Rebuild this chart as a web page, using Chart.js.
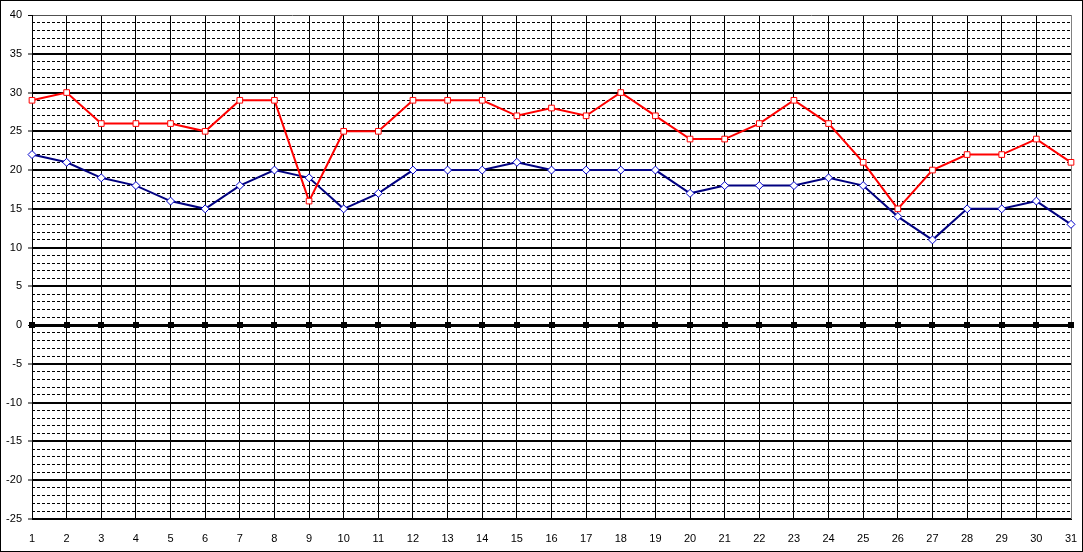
<!DOCTYPE html>
<html>
<head>
<meta charset="utf-8">
<script src="https://cdn.jsdelivr.net/npm/chart.js@4/dist/chart.umd.min.js"></script>
<style>
  html, body { margin: 0; padding: 0; background: #fff; }
  #wrap { width: 1083px; height: 552px; border: 1px solid #000; box-sizing: border-box; }
  canvas { display: block; }
</style>
</head>
<body>
<div id="wrap"><canvas id="c" width="1081" height="550"></canvas></div>
<script>
const days = ["1","2","3","4","5","6","7","8","9","10","11","12","13","14","15","16",
  "17","18","19","20","21","22","23","24","25","26","27","28","29","30","31"];
const maxTemps = [29, 30, 26, 26, 26, 25, 29, 29, 16, 25, 25, 29, 29, 29, 27, 28,
  27, 30, 27, 24, 24, 26, 29, 26, 21, 15, 20, 22, 22, 24, 21];
const minTemps = [22, 21, 19, 18, 16, 15, 18, 20, 19, 15, 17, 20, 20, 20, 21, 20,
  20, 20, 20, 17, 18, 18, 18, 19, 18, 14, 11, 15, 15, 16, 13];
const yMin = -25, yMax = 40;

// small black squares where the category axis crosses zero
const zeroMarks = {
  id: "zeroMarks",
  beforeDatasetsDraw(chart) {
    const x = chart.scales.x, y = chart.scales.y;
    const py = Math.round(y.getPixelForValue(0));
    const ctx = chart.ctx;
    ctx.save();
    ctx.fillStyle = "#000";
    days.forEach((d, i) => {
      const px = Math.round(x.getPixelForValue(i));
      ctx.fillRect(px - 3, py - 3, 6, 6);
    });
    ctx.restore();
  }
};

const font = { family: "'Liberation Sans', Arial, sans-serif", size: 11 };

new Chart(document.getElementById("c"), {
  type: "line",
  data: {
    labels: days,
    datasets: [
      {
        data: maxTemps,
        borderColor: "#ff0000",
        borderWidth: 2,
        pointStyle: "rect",
        pointRadius: 4,
        pointBorderWidth: 1,
        pointBackgroundColor: "#fff",
        pointBorderColor: "#ff0000",
        tension: 0
      },
      {
        data: minTemps,
        borderColor: "#000080",
        borderWidth: 2,
        pointStyle: "rectRot",
        pointRadius: 4,
        pointBorderWidth: 1,
        pointBackgroundColor: "#fff",
        pointBorderColor: "#0000cc",
        tension: 0
      }
    ]
  },
  options: {
    responsive: false,
    animation: false,
    devicePixelRatio: 1,
    layout: { padding: { top: 14, right: 11, left: 0, bottom: 0 } },
    plugins: { legend: { display: false }, tooltip: { enabled: false } },
    scales: {
      x: {
        type: "category",
        offset: false,
        grid: {
          offset: false,
          color: (c) => (c.index === days.length - 1 ? "#808080" : "#000"),
          lineWidth: 1,
          drawTicks: false
        },
        border: { display: true, color: "#000", width: 1 },
        ticks: { color: "#000", font, padding: 13, autoSkip: false, maxRotation: 0 },
        afterFit: (s) => {
          s.height = 32;
          s.paddingLeft = 0;
          s.paddingRight = 0;
        }
      },
      yMinor: {
        type: "linear",
        position: "left",
        min: yMin,
        max: yMax,
        ticks: { display: false, stepSize: 1 },
        grid: {
          color: (c) => (c.tick && c.tick.value % 5 === 0 ? "rgba(0,0,0,0)" : "#000"),
          lineWidth: 1,
          drawTicks: false
        },
        border: { display: false, dash: [3, 2] },
        afterFit: (s) => { s.width = 0; }
      },
      y: {
        type: "linear",
        position: "left",
        min: yMin,
        max: yMax,
        ticks: { stepSize: 5, color: "#000", font, padding: 6 },
        grid: {
          color: (c) => (c.tick && c.tick.value === yMax ? "#505050" : "#000"),
          lineWidth: (c) => {
            const v = c.tick && c.tick.value;
            if (v === 0) return 3;
            if (v === yMax) return 1;
            return 2;
          },
          tickLength: 4,
          tickWidth: 1,
          tickColor: "#000"
        },
        border: { display: true, color: "#000", width: 1 },
        afterFit: (s) => {
          s.width = 31;
          s.paddingTop = 0;
          s.paddingBottom = 0;
        }
      }
    }
  },
  plugins: [zeroMarks]
});
</script>
</body>
</html>
